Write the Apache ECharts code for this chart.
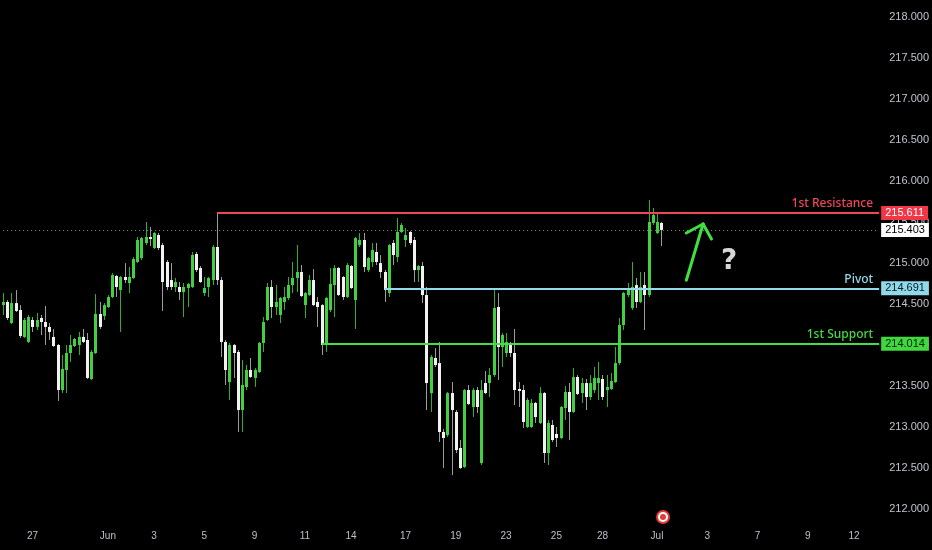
<!DOCTYPE html>
<html><head><meta charset="utf-8">
<script src="https://cdn.jsdelivr.net/npm/echarts@6/dist/echarts.min.js"></script>
<style>html,body{margin:0;padding:0;background:#000;}#c{width:932px;height:550px;}</style>
</head><body><div id="c"></div>
<script>
// x-axis tick labels and the slot (bar index) each one sits on
const tickLabels = ['27','Jun','3','5','9','11','14','17','19','23','25','28','Jul','3','7','9','12'];
const tickSlots  = [7,25,36,48,60,72,83,96,108,120,132,143,156,168,180,192,203];
const slotCount = 210;

// 4H candles: [open, close, low, high]
const candles = [
[214.487,214.524,214.366,214.633],[214.524,214.329,214.305,214.548],[214.268,214.511,214.256,214.633],[214.511,214.415,214.402,214.670],
[214.427,214.110,214.085,214.487],[214.098,214.305,214.085,214.329],[214.037,214.341,214.024,214.366],[214.305,214.220,214.159,214.341],
[214.220,214.305,214.183,214.390],[214.329,214.280,214.122,214.366],[214.280,214.220,214.000,214.475],[214.220,214.159,214.061,214.268],
[214.098,213.988,213.975,214.195],[214.000,213.451,213.317,214.012],[213.451,213.707,213.414,213.878],[213.695,213.902,213.414,214.000],
[213.902,214.000,213.793,214.122],[213.988,214.073,213.975,214.085],[214.000,214.098,213.878,214.159],[214.098,214.037,214.024,214.195],
[214.061,213.598,213.585,214.146],[213.585,213.915,213.573,213.939],[213.902,214.378,213.890,214.621],[214.378,214.220,214.195,214.524],
[214.353,214.487,214.305,214.511],[214.463,214.585,214.451,214.609],[214.585,214.853,214.573,214.877],[214.841,214.707,214.585,214.853],
[214.670,214.829,214.159,214.841],[214.829,214.792,214.756,214.999],[214.756,214.829,214.633,214.951],[214.817,215.048,214.805,215.073],
[215.012,215.280,214.999,215.317],[215.060,215.304,215.036,215.317],[215.244,215.317,215.219,215.500],[215.317,215.292,215.207,215.439],
[215.183,215.366,215.171,215.378],[215.341,215.183,215.158,215.366],[215.219,214.768,214.415,215.244],[215.012,214.707,214.670,215.036],
[214.792,214.707,214.670,214.999],[214.707,214.768,214.646,214.817],[214.707,214.646,214.548,214.768],[214.646,214.707,214.341,214.756],
[214.695,214.744,214.463,214.756],[214.707,215.097,214.695,215.134],[215.110,214.914,214.890,215.134],[214.939,214.768,214.756,214.963],
[214.634,214.695,214.597,214.829],[214.707,214.817,214.585,214.829],[214.792,215.195,214.731,215.219],[215.195,214.792,214.731,215.611],
[214.792,214.037,213.854,214.829],[214.037,213.695,213.512,214.061],[213.549,214.000,213.329,214.024],[214.000,213.902,213.598,214.012],
[213.915,213.207,212.939,213.939],[213.207,213.512,212.939,213.817],[213.488,213.695,213.451,213.756],[213.695,213.610,213.598,213.841],
[213.598,213.695,213.488,213.719],[213.671,214.024,213.660,214.037],[214.024,214.280,213.915,214.341],[214.305,214.707,214.293,214.756],
[214.707,214.463,214.329,214.792],[214.463,214.524,214.366,214.731],[214.366,214.573,214.268,214.585],[214.524,214.585,214.427,214.707],
[214.573,214.731,214.548,214.829],[214.731,214.817,214.633,215.012],[214.817,214.890,214.646,215.219],[214.890,214.597,214.585,214.975],
[214.487,214.634,214.329,214.646],[214.609,214.792,214.597,214.853],[214.792,214.487,214.475,214.926],[214.524,214.463,214.220,214.585],
[214.487,214.000,213.878,214.500],[214.000,214.573,213.915,214.585],[214.427,214.744,214.402,214.939],[214.731,214.939,214.341,214.975],
[214.939,214.609,214.597,214.951],[214.829,214.585,214.548,214.841],[214.585,214.975,214.573,214.999],[214.963,214.695,214.683,214.975],
[214.548,215.304,214.195,215.317],[215.219,215.280,215.195,215.366],[215.280,214.951,214.890,215.366],[214.914,215.061,214.890,215.073],
[215.012,215.158,214.951,215.244],[215.134,215.012,214.975,215.244],[214.999,214.890,214.817,215.097],[214.890,214.670,214.524,214.914],
[214.634,215.219,214.585,215.232],[215.244,215.097,214.975,215.280],[215.073,215.378,215.012,215.549],[215.378,215.463,215.366,215.488],
[215.280,215.341,215.195,215.427],[215.378,215.244,215.219,215.390],[215.280,214.914,214.768,215.317],[214.914,214.963,214.768,214.975],
[214.963,214.609,214.511,215.012],[214.609,213.536,213.207,214.707],[213.414,213.854,213.183,213.878],[213.841,213.756,213.732,213.963],
[213.780,212.939,212.817,214.037],[212.939,212.866,212.500,212.975],[212.902,213.414,212.878,213.427],[213.414,213.207,212.414,213.549],
[213.183,212.719,212.683,213.207],[212.744,212.500,212.488,212.841],[212.512,213.451,212.500,213.463],[213.451,213.280,213.268,213.512],
[213.244,213.451,213.122,213.475],[213.451,213.244,213.171,213.488],[212.561,213.451,212.536,213.573],[213.536,213.414,213.400,213.683],
[213.536,213.634,213.366,213.719],[213.634,214.451,213.610,214.670],[214.463,213.975,213.573,214.633],[213.975,214.122,213.732,214.146],
[213.902,214.037,213.854,214.146],[214.012,213.902,213.854,214.037],[213.902,213.451,213.268,214.195],[213.463,213.439,213.244,213.549],
[213.451,213.061,212.988,213.512],[213.000,213.329,212.988,213.354],[213.000,213.293,212.988,213.341],[213.293,213.122,213.049,213.305],
[213.049,213.414,213.036,213.488],[213.414,212.683,212.561,213.427],[212.683,213.049,212.536,213.085],[213.024,212.841,212.817,213.085],
[212.915,212.866,212.756,213.000],[212.866,213.244,212.854,213.256],[213.232,213.427,213.085,213.500],[213.427,213.183,212.841,213.536],
[213.183,213.610,213.171,213.719],[213.610,213.402,213.390,213.634],[213.414,213.536,213.293,213.598],[213.536,213.366,213.207,213.585],
[213.366,213.536,213.329,213.634],[213.451,213.598,213.414,213.732],[213.536,213.598,213.329,213.793],[213.585,213.366,213.329,213.634],
[213.451,213.488,213.244,213.634],[213.463,213.561,213.451,213.659],[213.549,213.780,213.536,213.976],[213.780,214.244,213.756,214.329],
[214.244,214.634,214.183,214.646],[214.609,214.695,214.585,214.756],[214.451,214.707,214.427,215.012],[214.731,214.524,214.451,214.817],
[214.524,214.707,214.511,214.890],[214.731,214.609,214.183,214.890],[214.609,215.500,214.585,215.768],[215.488,215.585,215.463,215.671],
[215.366,215.500,215.354,215.622],[215.488,215.403,215.207,215.500]
];

// key levels
const levelNames  = ['1st Resistance', 'Pivot', '1st Support'];
const levelPrices = [215.611, 214.691, 214.014];
const levelStartBar = [51, 91, 76];
const lastPrice = 215.403;

// hand-drawn arrow (bar index, price)
const arrowTail = [163, 214.790];
const arrowTip  = [167, 215.476];
const arrowArmL = [163, 215.366];
const arrowArmR = [169, 215.293];

const levelColors = ['#ef4658', '#93dbea', '#45dc45'];
const tagBg = ['#f23645', '#8fd9ea', '#3fd83f'];
const tagText = ['#ffffff', '#0b1a1e', '#06210a'];

const slots = [];
for (let i = 0; i < slotCount; i++) slots.push('');
tickSlots.forEach((s, k) => { slots[s] = tickLabels[k]; });

const chart = echarts.init(document.getElementById('c'), null, {renderer: 'canvas'});

const tagLabel = (text, fg, bg) => ({
  show: true, position: 'end', formatter: text, color: fg, backgroundColor: bg,
  padding: [2, 4, 1, 4], fontSize: 11, fontFamily: 'Liberation Sans', distance: 2
});

const markData = [];
// last price dotted line + white tag
markData.push([
  {coord: [0, lastPrice], lineStyle: {color: '#8a8a8a', width: 1, type: [1, 3]},
   label: tagLabel(lastPrice.toFixed(3), '#000000', '#ffffff')},
  {coord: [slotCount - 1, lastPrice]}
]);
levelPrices.forEach((p, k) => {
  markData.push([
    {coord: [levelStartBar[k], p], lineStyle: {color: levelColors[k], width: 2, type: 'solid'},
     label: {show: true, position: 'insideEndTop', formatter: levelNames[k], color: levelColors[k],
             fontSize: 12, fontWeight: 500, fontFamily: 'Noto Sans', distance: [6, 3]}},
    {coord: [slotCount - 1, p]}
  ]);
  markData.push([
    {coord: [slotCount - 2, p], lineStyle: {color: 'rgba(0,0,0,0)', width: 1, type: 'solid'},
     label: tagLabel(p.toFixed(3), tagText[k], tagBg[k])},
    {coord: [slotCount - 1, p]}
  ]);
});
const arrowStyle = {color: '#3fe03f', width: 3, type: 'solid', cap: 'round'};
[[arrowTail, arrowTip], [arrowArmL, arrowTip], [arrowArmR, arrowTip]].forEach(seg => {
  markData.push([{coord: seg[0], lineStyle: arrowStyle, label: {show: false}}, {coord: seg[1]}]);
});

function renderItem(params, api) {
  const i = api.value(0);
  const o = api.value(1), c = api.value(2), l = api.value(3), h = api.value(4);
  const pO = api.coord([i, o]), pC = api.coord([i, c]);
  const pL = api.coord([i, l]), pH = api.coord([i, h]);
  const up = c >= o;
  const x = Math.round(pO[0]);
  const top = Math.min(pO[1], pC[1]), bot = Math.max(pO[1], pC[1]);
  return {type: 'group', children: [
    {type: 'line', shape: {x1: x + 0.5, y1: pH[1], x2: x + 0.5, y2: pL[1]},
     style: {stroke: up ? '#2fae2f' : '#9c9c9c', lineWidth: 1}},
    {type: 'rect', shape: {x: x - 1, y: top, width: 3, height: Math.max(bot - top, 1)},
     style: {fill: up ? '#41d041' : '#f2f2f2'}}
  ]};
}

chart.setOption({
  backgroundColor: '#000000',
  animation: false,
  grid: {left: 1, right: 46, top: 0, bottom: 0, containLabel: false},
  xAxis: {
    type: 'category', data: slots, boundaryGap: true,
    axisLine: {show: false}, axisTick: {show: false}, splitLine: {show: false},
    axisLabel: {interval: (i, v) => v !== '', margin: -19, color: '#bcc0c8', fontSize: 10,
                fontFamily: 'Liberation Sans'}
  },
  yAxis: {
    type: 'value', position: 'right', min: 211.5, max: 218.207, interval: 0.5,
    axisLine: {show: false}, axisTick: {show: false}, splitLine: {show: false},
    axisLabel: {margin: 8, color: '#c0c4cc', fontSize: 11, fontFamily: 'Liberation Sans',
                showMinLabel: false, showMaxLabel: false, formatter: v => v.toFixed(3)}
  },
  series: [{
    type: 'custom', renderItem: renderItem,
    data: candles.map((d, i) => [i, d[0], d[1], d[2], d[3]]),
    encode: {x: 0, y: [1, 2, 3, 4]},
    markLine: {symbol: ['none', 'none'], silent: true, animation: false, data: markData,
               emphasis: {disabled: true}}
  }],
  graphic: [
    {type: 'text', left: 721, top: 248, style: {text: '?', fill: '#d6d6d6', fontSize: 28,
      fontWeight: 'bold', fontFamily: 'DejaVu Sans'}},
    {type: 'circle', shape: {cx: 663, cy: 517, r: 7}, style: {fill: '#e53935'}},
    {type: 'circle', shape: {cx: 663, cy: 517, r: 5}, style: {fill: '#ffffff'}},
    {type: 'circle', shape: {cx: 663, cy: 517, r: 3}, style: {fill: '#e53935'}}
  ]
});
</script></body></html>
